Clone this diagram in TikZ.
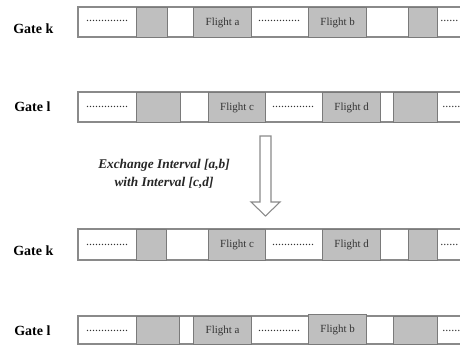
\documentclass[tikz,border=0pt]{standalone}
\usepackage{fontspec}
\setmainfont{Liberation Serif}
\definecolor{boxgray}{HTML}{BFBFBF}
\definecolor{edgegray}{HTML}{7A7A7A}
\definecolor{linegray}{HTML}{8A8A8A}
\definecolor{txtgray}{HTML}{333333}
\newcommand\gbox[6]{\node[flight, minimum width=#4*0.75pt, minimum height=#5*0.75pt, anchor=north west] (#1) at (#2,#3) {#6};}
\begin{document}
\begin{tikzpicture}[x=0.75pt,y=-0.75pt,
  flight/.style={draw=edgegray, fill=boxgray, line width=0.9pt, inner sep=0pt, font=\fontsize{8.2}{9}\selectfont, text=txtgray},
  gatelabel/.style={font=\fontsize{10.5}{12}\selectfont\bfseries, anchor=west, inner sep=0pt},
  dots/.style={font=\fontsize{9}{10}\selectfont, text=txtgray, inner sep=0pt, anchor=base},
  rail/.style={draw=linegray, line width=0.8pt},
  hollow/.style={draw=linegray, line width=0.8pt, fill=white},
  note/.style={font=\fontsize{10}{13.5}\selectfont\bfseries\itshape, align=center, text=black!85}]
\useasboundingbox (0,0) rectangle (460,345);
% ---------- Row 1: Gate k (before)
\draw[rail] (460,7) -- (78,7) -- (78,37) -- (460,37);
\gbox{k1a}{136}{7}{31}{30}{}
\gbox{k1b}{193}{7}{58}{30}{Flight a}
\gbox{k1c}{308}{7}{58}{30}{Flight b}
\gbox{k1d}{408}{7}{29}{30}{}
\node[dots] (k1p) at (107,22) {..............};
\node[dots] (k1q) at (279,22) {..............};
\node[dots, anchor=base west] (k1r) at (440,22) {......};
\node[gatelabel] (gk1) at (13,29) {Gate k};
% ---------- Row 2: Gate l (before)
\draw[rail] (460,92) -- (78,92) -- (78,122) -- (460,122);
\gbox{l1a}{136}{92}{44}{30}{}
\gbox{l1b}{208}{92}{57}{30}{Flight c}
\gbox{l1c}{322}{92}{58}{30}{Flight d}
\gbox{l1d}{393}{92}{44}{30}{}
\node[dots] (l1p) at (107,108) {..............};
\node[dots] (l1q) at (293,108) {..............};
\node[dots, anchor=base west] (l1r) at (442,108) {......};
\node[gatelabel] (gl1) at (14,107) {Gate l};
% ---------- Exchange arrow
\coordinate (ar) at (265.5,136);
\draw[hollow] (ar) ++(-5.5,0) -- ++(11,0) -- ++(0,66) -- ++(9,0) -- ++(-14.5,14) -- ++(-14.5,-14) -- ++(9,0) -- cycle;
\node[note] (ex) at (164,174) {Exchange Interval [a,b]\\with Interval [c,d]};
% ---------- Row 3: Gate k (after)
\draw[rail] (460,229) -- (78,229) -- (78,260) -- (460,260);
\gbox{k2a}{136}{229}{30}{31}{}
\gbox{k2b}{208}{229}{57}{31}{Flight c}
\gbox{k2c}{322}{229}{58}{31}{Flight d}
\gbox{k2d}{408}{229}{29}{31}{}
\node[dots] (k2p) at (107,245) {..............};
\node[dots] (k2q) at (293,245) {..............};
\node[dots, anchor=base west] (k2r) at (440,245) {......};
\node[gatelabel] (gk2) at (13,251) {Gate k};
% ---------- Row 4: Gate l (after)
\draw[rail] (460,316) -- (78,316) -- (78,344) -- (460,344);
\gbox{l2a}{136}{316}{43}{28}{}
\gbox{l2b}{193}{316}{58}{28}{Flight a}
\gbox{l2c}{308}{314}{58}{30}{Flight b}
\gbox{l2d}{393}{316}{44}{28}{}
\node[dots] (l2p) at (107,331) {..............};
\node[dots] (l2q) at (279,331) {..............};
\node[dots, anchor=base west] (l2r) at (442,331) {......};
\node[gatelabel] (gl2) at (14,331) {Gate l};
\end{tikzpicture}
\end{document}
